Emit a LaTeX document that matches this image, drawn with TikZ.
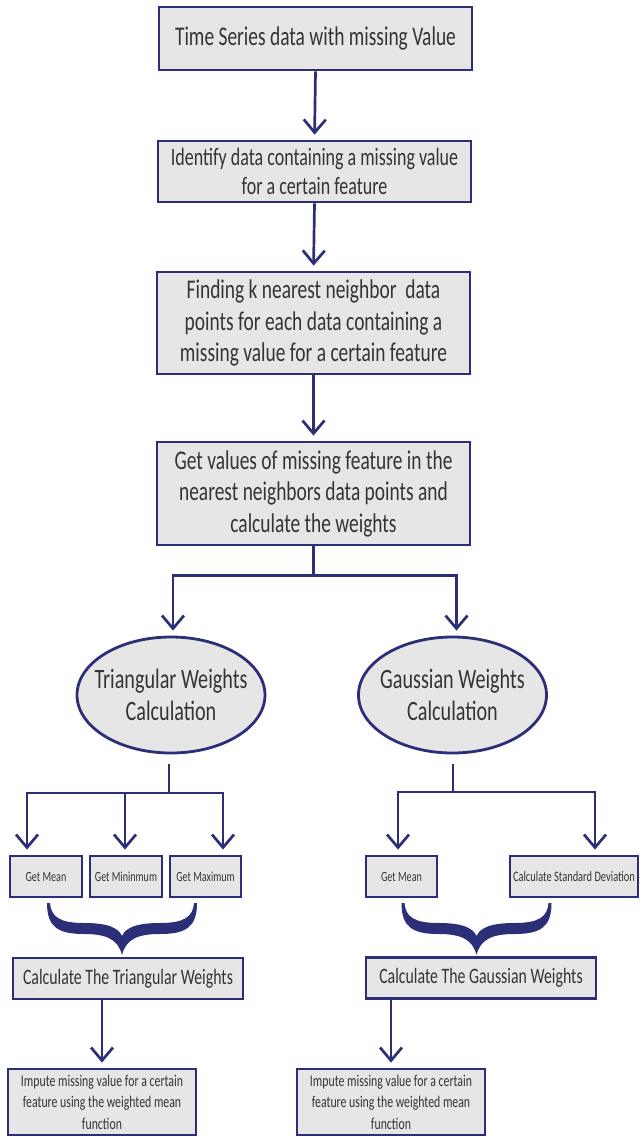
\documentclass[tikz,border=0pt]{standalone}
\usepackage{fontspec}
\setmainfont{Carlito}[FakeStretch=0.72]
\usetikzlibrary{arrows.meta,shapes.geometric,calc}
\definecolor{navy}{RGB}{44,46,120}
\definecolor{boxfill}{RGB}{230,230,230}
\definecolor{txt}{RGB}{52,52,52}
\begin{document}
\begin{tikzpicture}[x=1pt,y=-1pt,
  line/.style={draw=navy, line width=2.7pt},
  arr/.style={line, -{Straight Barb[length=13pt,width=22pt]}, shorten >=5pt},
  base/.style={draw=navy, line width=2.8pt, fill=boxfill, text=txt, align=center, inner sep=0pt},
  bigbox/.style={base, minimum width=313pt, font=\fontsize{27}{31.5}\selectfont},
  oval/.style={base, ellipse, inner xsep=-12pt, minimum width=188pt, minimum height=116pt, font=\fontsize{28}{32}\selectfont},
  smallbox/.style={base, minimum height=41pt, font=\fontsize{14}{16}\selectfont},
  calcbox/.style={base, minimum width=230pt, minimum height=41pt, font=\fontsize{22}{24}\selectfont},
  impbox/.style={base, minimum width=188pt, minimum height=66pt, font=\fontsize{16.4}{21.5}\selectfont},
  curlybrace/.pic={
    \fill[navy] (-75,0) .. controls (-75,24) and (-64,31) .. (-38,31)
      .. controls (-16,31) and (-4,36) .. (0,52)
      .. controls (4,36) and (16,31) .. (38,31)
      .. controls (64,31) and (75,24) .. (75,0)
      -- (72,0) .. controls (71,14) and (62,20) .. (38,20)
      .. controls (16,20) and (4,24) .. (0,33)
      .. controls (-4,24) and (-16,20) .. (-38,20)
      .. controls (-62,20) and (-71,14) .. (-72,0) -- cycle;
  }]
\useasboundingbox (0,0) rectangle (641,1137);

% main chain
\node[bigbox, minimum height=63pt] (b1) at (315.5,38.5) {\raisebox{2pt}{Time Series data with missing Value}};
\node[bigbox, minimum height=61pt, font=\fontsize{25}{29}\selectfont] (b2) at (314.5,171.5) {Identify data containing a missing value\\for a certain feature};
\node[bigbox, minimum height=102pt] (b3) at (313.5,323) {Finding k nearest neighbor\ \ data\\points for each data containing a\\missing value for a certain feature};
\node[bigbox, minimum height=103pt] (b4) at (313.5,493.5) {Get values of missing feature in the\\nearest neighbors data points and\\calculate the weights};

% weight calculations
\node[oval] (tri) at (171,695) {Triangular Weights\\Calculation};
\node[oval] (gau) at (452.5,695) {Gaussian Weights\\Calculation};

% statistics
\node[smallbox, minimum width=72pt] (gm1) at (46,876.5) {Get Mean};
\node[smallbox, minimum width=72pt] (gmin) at (126,876.5) {Get Mininmum};
\node[smallbox, minimum width=71pt] (gmax) at (205.5,876.5) {Get Maximum};
\node[smallbox, minimum width=71pt] (gm2) at (401.5,876.5) {Get Mean};
\node[smallbox, minimum width=128pt, font=\fontsize{14.5}{16}\selectfont] (sd) at (574,876.5) {Calculate Standard Deviation};

% weights
\node[calcbox] (ct) at (128,978.5) {Calculate The Triangular Weights};
\node[calcbox] (cg) at (481,978) {Calculate The Gaussian Weights};

% imputation
\node[impbox] (it) at (102,1102) {Impute missing value for a certain\\feature using the weighted mean\\function};
\node[impbox] (ig) at (391,1102) {Impute missing value for a certain\\feature using the weighted mean\\function};

% connectors
\draw[arr] (b1.south) -- (b2.north);
\draw[arr] (b2.south) -- (b3.north);
\draw[arr] (b3.south) -- (b4.north);

\coordinate (split) at ($(b4.south)+(0,29)$);
\draw[line] (b4.south) -- (split);
\draw[arr] (split) -| ([xshift=2pt]tri.north);
\draw[arr] (split) -| ([xshift=4pt]gau.north);

\coordinate (tj) at (169,793);
\draw[line] ([yshift=-10pt]tri.south -| tj) -- (tj);
\draw[arr] (tj) -| ([xshift=-19pt]gm1.north);
\draw[arr] (tj) -| ([xshift=-1pt]gmin.north);
\draw[arr] (tj) -| ([xshift=17.5pt]gmax.north);

\coordinate (gj) at (453,792);
\draw[line] ([yshift=-10pt]gau.south -| gj) -- (gj);
\draw[arr] (gj) -| ([xshift=-3.5pt]gm2.north);
\draw[arr] (gj) -| ([xshift=21pt]sd.north);

\draw[arr] (ct.south -| it.north) -- (it.north);
\draw[arr] (cg.south -| ig.north) -- (ig.north);

% braces gathering the statistics
\pic at (122,903) {curlybrace};
\pic at (476.5,903) {curlybrace};
\end{tikzpicture}
\end{document}
